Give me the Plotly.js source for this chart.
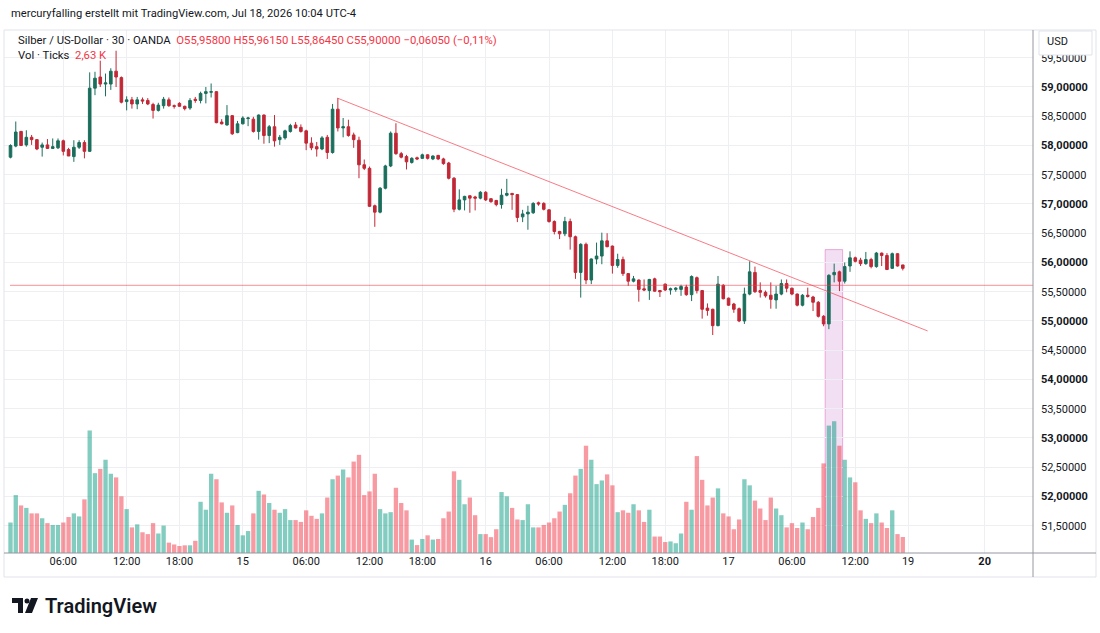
<!DOCTYPE html>
<html>
<head>
<meta charset="utf-8">
<script src="https://cdn.plot.ly/plotly-3.0.1.min.js"></script>
<style>
  html, body { margin: 0; padding: 0; background: #ffffff; }
  #chart { width: 1100px; height: 633px; }
</style>
</head>
<body>
<div id="chart"></div>
<script>
// XAG/USD, 30-minute candles (OANDA), Jul 14 - Jul 17
const openP = [
  57.80,57.99,58.24,58.01,58.14,58.10,57.97,58.01,57.95,57.96,
  58.08,57.93,57.81,57.97,58.05,57.90,58.98,59.17,59.05,59.05,
  59.27,59.16,58.75,58.78,58.71,58.78,58.77,58.70,58.60,58.68,
  58.78,58.68,58.72,58.67,58.64,58.79,58.77,58.89,58.91,58.92,
  58.40,58.35,58.51,58.22,58.37,58.46,58.45,58.24,58.52,58.17,
  58.32,58.10,58.13,58.24,58.35,58.31,58.25,58.04,57.98,57.94,
  58.14,57.88,58.62,58.30,58.32,58.18,58.09,57.67,57.61,56.97,
  56.86,57.27,57.65,58.21,57.86,57.81,57.71,57.79,57.78,57.84,
  57.77,57.83,57.77,57.70,57.44,56.91,57.07,57.14,57.12,57.10,
  57.20,57.09,57.06,56.99,57.15,57.18,57.16,56.78,56.83,56.85,
  57.02,57.01,56.90,56.70,56.53,56.49,56.70,56.44,55.83,56.31,
  55.70,56.06,56.11,56.37,56.28,55.95,56.05,55.81,55.68,55.70,
  55.55,55.52,55.72,55.52,55.63,55.53,55.54,55.54,55.58,55.45,
  55.74,55.52,55.22,55.20,54.92,55.61,55.39,55.29,55.21,55.00,
  55.46,55.83,55.52,55.49,55.44,55.36,55.46,55.64,55.56,55.46,
  55.27,55.44,55.41,55.32,55.08,54.95,55.79,55.84,55.68,55.94,
  56.08,56.04,55.98,56.05,55.93,56.16,56.12,55.90,56.15,55.958
];
const highP = [
  58.02,58.41,58.25,58.26,58.18,58.11,58.05,58.11,58.12,58.12,
  58.10,57.96,58.09,58.09,58.09,59.25,59.26,59.45,59.23,59.32,
  59.62,59.18,58.84,58.83,58.83,58.82,58.81,58.73,58.73,58.83,
  58.82,58.70,58.74,58.68,58.81,58.83,58.92,59.00,59.06,58.93,
  58.45,58.69,58.52,58.42,58.50,58.49,58.49,58.53,58.53,58.35,
  58.52,58.18,58.27,58.37,58.40,58.36,58.27,58.14,58.06,58.16,
  58.18,58.71,58.81,58.47,58.44,58.22,58.15,57.76,57.64,56.99,
  57.29,57.67,58.24,58.38,57.89,57.84,57.80,57.81,57.86,57.85,
  57.83,57.84,57.79,57.72,57.46,57.25,57.14,57.15,57.14,57.22,
  57.22,57.10,57.07,57.26,57.43,57.19,57.17,56.90,56.97,57.03,
  57.04,57.03,56.91,56.72,56.54,56.78,56.75,56.46,56.33,56.34,
  56.07,56.34,56.51,56.50,56.29,56.15,56.10,55.82,55.77,55.71,
  55.71,55.72,55.74,55.53,55.64,55.57,55.58,55.62,55.62,55.78,
  55.76,55.53,55.30,55.21,55.77,55.63,55.40,55.31,55.23,55.57,
  56.02,55.93,55.66,55.52,55.66,55.60,55.71,55.71,55.57,55.47,
  55.46,55.57,55.43,55.34,55.10,55.80,55.98,55.86,56.00,56.19,
  56.10,56.08,56.18,56.08,56.18,56.17,56.16,56.17,56.16,55.9615
];
const lowP = [
  57.78,57.97,57.99,57.98,58.01,57.92,57.81,57.94,57.94,57.94,
  57.83,57.82,57.72,57.94,57.78,57.89,58.86,59.00,58.84,58.95,
  59.00,58.72,58.60,58.63,58.62,58.71,58.69,58.46,58.58,58.63,
  58.66,58.63,58.66,58.60,58.61,58.73,58.72,58.72,58.82,58.38,
  58.36,58.34,58.18,58.21,58.36,58.33,58.22,58.10,58.03,58.04,
  57.98,58.01,58.10,58.22,58.29,58.22,57.92,57.92,57.81,57.92,
  57.77,57.86,58.24,58.14,58.15,57.96,57.44,57.58,56.95,56.61,
  56.84,57.25,57.63,57.84,57.78,57.59,57.69,57.75,57.77,57.76,
  57.75,57.75,57.67,57.42,56.86,56.89,56.89,56.85,56.89,57.08,
  57.05,57.02,56.96,56.92,57.13,56.90,56.69,56.69,56.56,56.83,
  56.97,56.89,56.68,56.48,56.40,56.45,56.22,55.72,55.40,55.63,
  55.63,55.97,55.97,56.26,55.81,55.91,55.77,55.60,55.66,55.33,
  55.51,55.36,55.50,55.41,55.51,55.45,55.50,55.43,55.43,55.34,
  55.47,55.04,55.09,54.76,54.91,55.37,55.26,55.14,54.98,54.95,
  55.44,55.48,55.40,55.40,55.21,55.21,55.44,55.49,55.44,55.25,
  55.25,55.40,55.17,55.06,54.91,54.86,55.66,55.51,55.64,55.84,
  56.00,55.94,55.96,55.90,55.91,55.94,55.87,55.89,55.93,55.8645
];
const closeP = [
  58.00,58.23,58.00,58.14,58.10,57.94,58.01,57.95,57.98,58.08,
  57.90,57.82,57.97,58.05,57.90,58.98,59.15,59.05,59.07,59.27,
  59.17,58.74,58.78,58.71,58.78,58.76,58.71,58.60,58.69,58.79,
  58.68,58.67,58.67,58.63,58.77,58.77,58.89,58.92,58.92,58.39,
  58.37,58.51,58.20,58.37,58.47,58.47,58.24,58.52,58.17,58.32,
  58.08,58.14,58.25,58.34,58.30,58.24,58.04,57.96,57.94,58.13,
  57.88,58.62,58.30,58.32,58.17,58.10,57.67,57.61,56.96,56.86,
  57.27,57.65,58.21,57.86,57.80,57.72,57.78,57.77,57.84,57.78,
  57.82,57.77,57.69,57.44,56.91,57.07,57.13,57.10,57.10,57.20,
  57.07,57.04,56.99,57.15,57.18,57.16,56.77,56.83,56.86,57.01,
  57.00,56.91,56.70,56.53,56.49,56.70,56.44,55.83,56.31,55.70,
  56.06,56.11,56.37,56.27,55.95,56.05,55.81,55.68,55.72,55.54,
  55.53,55.71,55.51,55.50,55.53,55.55,55.56,55.59,55.45,55.76,
  55.52,55.20,55.18,54.92,55.63,55.38,55.27,55.20,55.00,55.46,
  55.84,55.50,55.49,55.43,55.37,55.46,55.64,55.56,55.46,55.27,
  55.44,55.42,55.32,55.08,54.95,55.78,55.83,55.68,55.93,56.08,
  56.02,55.98,56.05,55.93,56.16,56.12,55.88,56.15,55.94,55.90
];
// Volume in thousands of ticks
const volumeK = [
  5.0,9.5,7.8,7.4,6.5,6.5,5.7,4.9,4.6,4.6,
  5.0,5.9,6.5,6.0,8.8,20.1,13.1,13.8,15.3,13.0,
  12.4,9.3,7.2,4.2,4.7,3.4,3.1,4.9,3.2,4.5,
  1.7,1.4,1.15,1.26,1.26,2.0,8.4,7.1,13.0,12.1,
  8.3,6.6,7.8,4.6,2.9,3.6,6.5,10.2,9.6,8.2,
  7.1,6.6,7.2,5.4,5.4,5.1,7.0,6.1,5.6,6.5,
  9.1,12.1,12.7,13.7,12.4,15.0,16.1,9.5,10.1,13.0,
  7.2,6.5,6.7,10.7,8.2,7.0,2.2,1.3,2.3,2.9,
  2.2,2.3,5.7,6.8,13.4,12.0,8.0,9.1,6.2,3.1,
  3.1,2.6,3.9,10.0,9.3,7.4,5.5,5.4,8.0,4.2,
  4.2,4.6,5.0,5.7,6.8,7.9,9.8,12.7,13.8,17.6,
  15.3,11.3,11.9,12.9,11.1,6.7,7.0,6.6,8.0,7.0,
  5.1,7.1,2.7,2.7,1.8,1.9,1.6,3.2,8.4,7.1,
  15.9,12.0,7.8,9.1,10.6,6.5,6.0,3.9,5.5,12.1,
  11.1,8.6,7.3,5.4,9.1,7.3,6.2,4.2,4.9,4.1,
  5.0,3.9,5.9,7.4,14.7,20.9,21.6,17.6,15.3,12.4,
  11.6,7.0,5.6,4.9,6.5,5.0,4.1,7.0,3.1,2.63
];

// Time-axis labels (bar index of each labelled bar)
const timeTickIdx  = [10, 22, 32, 44, 56, 68, 78, 90, 102, 114, 124, 136, 148, 160, 170, 184.5];
const timeTickText = ['06:00','12:00','18:00','15','06:00','12:00','18:00','16','06:00','12:00','18:00','17','06:00','12:00','19','<b>20</b>'];

// Price-scale labels
const priceTicks = [51.5,52,52.5,53,53.5,54,54.5,55,55.5,56,56.5,57,57.5,58,58.5,59,59.5];

// Drawings
const levelPrice = 55.61;                      // horizontal level
const trendFrom = {idx: 61.9, price: 58.81};   // descending trendline
const trendTo   = {idx: 173.7, price: 54.83};
const boxFromIdx = 154.3, boxToIdx = 157.6, boxTopPrice = 56.22;   // highlighted breakout bars

const idx = openP.map((_, i) => i);
const UP = '#1b6e5c', DOWN = '#c12836';
const volColors = closeP.map((c, i) => c >= openP[i] ? 'rgba(8,153,129,0.5)' : 'rgba(242,54,69,0.5)');

const fmtPrice = v => {
  const s = v.toFixed(5).replace('.', ',');
  return Number.isInteger(v) ? '<b>' + s + '</b>' : s;
};

// page geometry helpers (pixel -> paper)
const W = 1100, H = 633, ML = 4, MR = 67, MT = 30, MB = 80;
const PW = W - ML - MR, PH = H - MT - MB;
const X = px => (px - ML) / PW;
const Y = py => (MT + PH - py) / PH;

const FONT = 'Roboto, "Open Sans", sans-serif';
const INK = '#131722';
const RED = '#F23645';

const volumeTrace = {
  type: 'bar', x: idx, y: volumeK, yaxis: 'y2',
  marker: {color: volColors, line: {width: 0}},
  hoverinfo: 'skip'
};
const candleTrace = {
  type: 'candlestick', x: idx, open: openP, high: highP, low: lowP, close: closeP,
  increasing: {line: {color: UP, width: 1}, fillcolor: UP},
  decreasing: {line: {color: DOWN, width: 1}, fillcolor: DOWN},
  whiskerwidth: 0, hoverinfo: 'skip'
};

const lineTo = (x0, y0, x1, y1, color, width) => ({
  type: 'line', xref: 'paper', yref: 'paper', x0: X(x0), y0: Y(y0), x1: X(x1), y1: Y(y1),
  line: {color: color, width: width || 1}, layer: 'above'
});

const pathFrom = pts => 'M ' + pts.map(p => X(p[0]) + ',' + Y(p[1])).join(' L ') + ' Z';

const shapes = [
  // highlighted breakout bars
  {type: 'rect', xref: 'x', yref: 'y', x0: boxFromIdx, x1: boxToIdx, y0: 51.034, y1: boxTopPrice,
   fillcolor: 'rgba(196,110,206,0.22)', line: {color: 'rgba(226,120,196,0.6)', width: 1}, layer: 'below'},
  // horizontal level
  {type: 'line', xref: 'paper', yref: 'y', x0: X(10), x1: 1, y0: levelPrice, y1: levelPrice,
   line: {color: 'rgba(242,54,69,0.55)', width: 1}},
  // trendline
  {type: 'line', xref: 'x', yref: 'y', x0: trendFrom.idx, y0: trendFrom.price, x1: trendTo.idx, y1: trendTo.price,
   line: {color: 'rgba(242,54,69,0.65)', width: 1}},
  // pane frame
  lineTo(4, 30, 1096, 30, '#e0e3eb'),
  lineTo(4, 577, 1096, 577, '#e0e3eb'),
  lineTo(4, 30, 4, 577, '#e0e3eb'),
  lineTo(1096, 30, 1096, 577, '#e0e3eb'),
  lineTo(1033, 30, 1033, 577, '#9598a1'),
  lineTo(4, 553, 1096, 553, '#9598a1'),
  // currency box
  {type: 'rect', xref: 'paper', yref: 'paper', x0: X(1039), x1: X(1092), y0: Y(55), y1: Y(31),
   fillcolor: '#ffffff', line: {color: '#e0e3eb', width: 1}, layer: 'above'},
  // logo mark
  {type: 'path', xref: 'paper', yref: 'paper', layer: 'above', fillcolor: INK, line: {width: 0},
   path: pathFrom([[12,598],[23,598],[23,613],[18,613],[18,603],[12,603]])},
  {type: 'circle', xref: 'paper', yref: 'paper', layer: 'above', fillcolor: INK, line: {width: 0},
   x0: X(24.5), x1: X(29.5), y0: Y(603.5), y1: Y(598.5)},
  {type: 'path', xref: 'paper', yref: 'paper', layer: 'above', fillcolor: INK, line: {width: 0},
   path: pathFrom([[31,598],[38,598],[32,613],[25,613]])}
];

const ann = (x, y, text, font, extra) => Object.assign({
  xref: 'paper', yref: 'paper', x: X(x), y: Y(y), xanchor: 'left', yanchor: 'middle',
  text: text, showarrow: false, font: Object.assign({family: FONT, size: 12, color: INK}, font || {})
}, extra || {});

const annotations = [
  ann(9, 13, 'mercuryfalling erstellt mit TradingView.com, Jul 18, 2026 10:04 UTC-4', {size: 11.2}),
  ann(16, 40, 'Silber / US-Dollar · 30 · OANDA  <span style="color:' + RED + '">O55,95800 H55,96150 L55,86450 C55,90000 −0,06050 (−0,11%)</span>', {size: 11.3}),
  ann(16, 55, 'Vol · Ticks  <span style="color:' + RED + '">2,63 K</span>', {size: 11.3}),
  ann(1045, 41, 'USD', {size: 11}),
  ann(43, 606, 'TradingView', {size: 20, weight: 600})
];

const layout = {
  width: W, height: H,
  margin: {l: ML, r: MR, t: MT, b: MB, pad: 0},
  paper_bgcolor: '#ffffff', plot_bgcolor: '#ffffff',
  showlegend: false, hovermode: false, dragmode: false,
  bargap: 0.18,
  xaxis: {
    type: 'linear', range: [-1.23, 193.66], fixedrange: true,
    rangeslider: {visible: false},
    tickmode: 'array', tickvals: timeTickIdx, ticktext: timeTickText,
    ticks: '', showgrid: true, gridcolor: '#eeeff2', gridwidth: 1,
    zeroline: false, showline: false,
    tickfont: {family: FONT, size: 11, color: INK}
  },
  yaxis: {
    side: 'right', range: [51.034, 59.974], fixedrange: true,
    tickmode: 'array', tickvals: priceTicks, ticktext: priceTicks.map(fmtPrice),
    ticks: '', ticklabelstandoff: 7,
    showgrid: true, gridcolor: '#eeeff2', gridwidth: 1, zeroline: false, showline: false,
    tickfont: {family: FONT, size: 11, color: INK}
  },
  yaxis2: {
    overlaying: 'y', range: [0, 85.8], visible: false, fixedrange: true
  },
  shapes: shapes,
  annotations: annotations
};

Plotly.newPlot('chart', [volumeTrace, candleTrace], layout, {displayModeBar: false, staticPlot: true});
</script>
</body>
</html>
